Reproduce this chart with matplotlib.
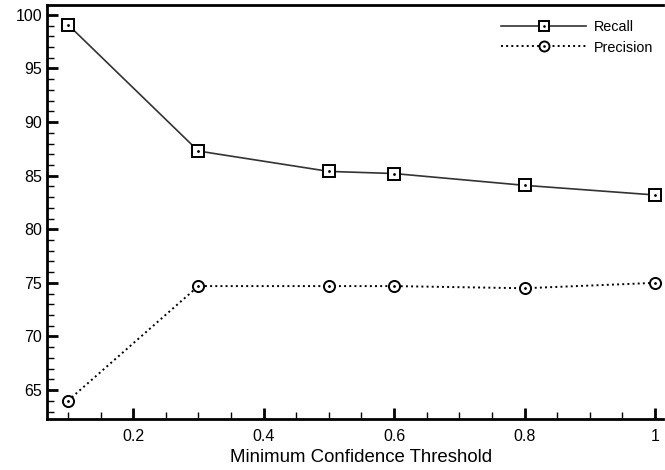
import matplotlib.pyplot as plt
from matplotlib.ticker import MultipleLocator

plt.rcParams["font.family"] = ["Liberation Sans", "DejaVu Sans"]

thresholds = [0.1, 0.3, 0.5, 0.6, 0.8, 1.0]
recall = [99.1, 87.3, 85.4, 85.2, 84.1, 83.2]
precision = [64.0, 74.7, 74.7, 74.7, 74.5, 75.0]

fig = plt.figure(figsize=(6.65, 4.7), dpi=100)
ax = fig.add_axes([0.0707, 0.1085, 0.926, 0.881])

# series lines with hollow markers
l1, = ax.plot(thresholds, recall, "-", color="#333333", lw=1.2,
              marker="s", ms=8, mfc="white", mec="black", mew=1.4)
d1, = ax.plot(thresholds, recall, ".", color="black", ms=2)
l2, = ax.plot(thresholds, precision, ":", color="black", lw=1.4,
              marker="o", ms=8, mfc="white", mec="black", mew=1.4)
d2, = ax.plot(thresholds, precision, ".", color="black", ms=2)

ax.set_xlim(0.068, 1.012)
ax.set_ylim(62.3, 100.93)
ax.xaxis.set_major_locator(MultipleLocator(0.2))
ax.xaxis.set_minor_locator(MultipleLocator(0.05))
ax.yaxis.set_major_locator(MultipleLocator(5))
ax.yaxis.set_minor_locator(MultipleLocator(1))
ax.set_xticks([0.2, 0.4, 0.6, 0.8, 1.0])
ax.set_xticklabels(["0.2", "0.4", "0.6", "0.8", "1"])

ax.spines["right"].set_visible(False)
for s in ["left", "top", "bottom"]:
    ax.spines[s].set_linewidth(2)
ax.tick_params(which="major", direction="in", length=8, width=2, labelsize=11.5)
ax.tick_params(which="minor", direction="in", length=5, width=1)
ax.tick_params(axis="x", which="both", top=False)
ax.tick_params(axis="x", pad=7)

ax.set_xlabel("Minimum Confidence Threshold", fontsize=13.4, labelpad=4)
ax.xaxis.label.set_x(0.51)

ax.legend([(l1, d1), (l2, d2)], ["Recall", "Precision"], loc="upper right",
          frameon=False, fontsize=10.4, handlelength=5.9, handletextpad=0.5,
          bbox_to_anchor=(1.005, 0.995), labelspacing=0.45, markerscale=0.9)

fig.savefig("out.png", dpi=100)
